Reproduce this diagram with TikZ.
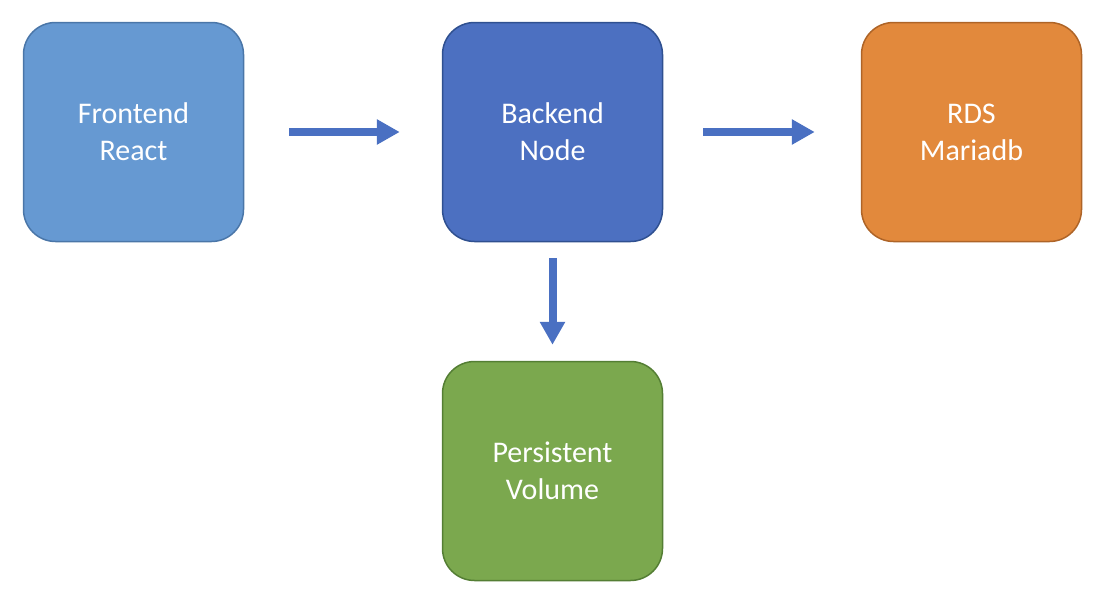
\documentclass[tikz,border=0pt]{standalone}
\usepackage{fontspec}
\setmainfont{Carlito}
\usetikzlibrary{positioning}
\usetikzlibrary{arrows.meta}
\definecolor{fefill}{HTML}{6699D2}
\definecolor{feline}{HTML}{4A76A8}
\definecolor{befill}{HTML}{4C70C1}
\definecolor{beline}{HTML}{2F5090}
\definecolor{dbfill}{HTML}{E2893C}
\definecolor{dbline}{HTML}{AE6427}
\definecolor{pvfill}{HTML}{7BA84E}
\definecolor{pvline}{HTML}{547E34}
\definecolor{arrowblue}{HTML}{4A70C2}
\tikzset{node distance=419pt,
block/.style={ 
rounded corners=32pt,
minimum width=220pt,
minimum height=219pt,
line width=1.5pt,
text=white,
align=center,
font=\fontsize{30}{37}\selectfont},
every edge/.style={ 
draw,
-{Triangle[length=23pt,width=24pt]}, 
line width=8pt,
color=arrowblue}}
\begin{document}
\begin{tikzpicture}
\useasboundingbox (0,0) rectangle (1106pt,-613pt);
\node[block, draw=feline, fill=fefill] (front) at (133.5pt,-132pt) {Frontend\\React};
\node[block, draw=beline, fill=befill, right of=front] (back) {Backend\\Node};
\node[block, draw=dbline, fill=dbfill, right of=back] (rds) {RDS\\Mariadb};
\node[block, draw=pvline, fill=pvfill, below of=back, node distance=339pt] (vol) {Persistent\\Volume};
\draw (front) edge[shorten <=45pt, shorten >=42pt] (back);
\draw (back) edge[shorten <=40pt, shorten >=46pt] (rds);
\draw (back) edge[shorten <=16pt, shorten >=16pt] (vol);
\end{tikzpicture}
\end{document}
